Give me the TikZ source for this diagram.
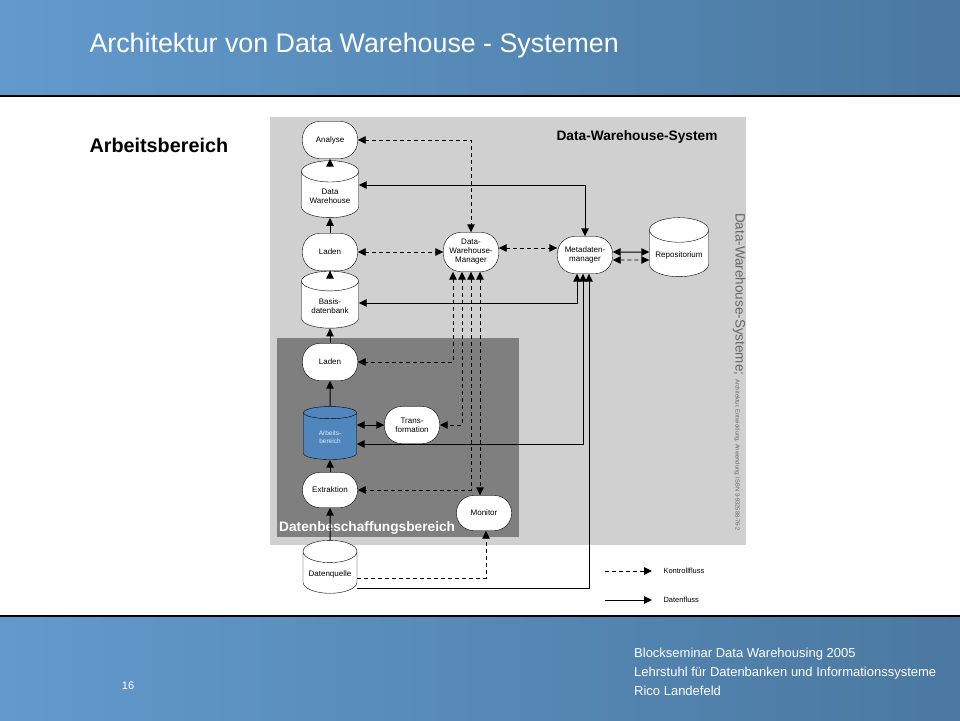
\documentclass[tikz,border=0pt]{standalone}
\usepackage{fontspec}
\setmainfont{Liberation Sans}
\usetikzlibrary{arrows.meta,shapes.geometric}
\definecolor{headl}{RGB}{98,154,204}
\definecolor{headr}{RGB}{74,120,160}
\definecolor{panel}{RGB}{208,208,208}
\definecolor{dark}{RGB}{127,127,127}
\definecolor{arbblue}{RGB}{79,134,190}
\begin{document}
\begin{tikzpicture}[x = 1pt, y = -1pt, >= {Triangle[length=8pt,width=7.5pt]},
    proc/.style = {draw, fill=white, rectangle, rounded corners=17pt, minimum width=55pt,
      minimum height=37pt, align=center, inner sep=1pt, font=\fontsize{8}{9}\selectfont},
    store/.style = {draw, fill=white, cylinder, shape border rotate=90, aspect=0.5,
      minimum width=57pt, minimum height=57pt, align=center, inner sep=1pt,
      font=\fontsize{8}{9}\selectfont},
    data/.style = {line width=1pt},
    ctrl/.style = {line width=0.9pt, dash pattern=on 4pt off 3pt}]
  \useasboundingbox (0, 0) rectangle (960, 720);
  % slide
  \shade[left color=headl, right color=headr] (0, 0) rectangle (960, 95);
  \shade[left color=headl, right color=headr] (0, 616) rectangle (960, 720);
  \draw[line width=2.5pt] (0, 96) -- (960, 96);
  \draw[line width=2pt] (0, 615.5) -- (960, 615.5);
  \node[anchor=west, text=white, font=\fontsize{26.8}{30}\selectfont] (title) at (86, 46)
    {Architektur von Data Warehouse - Systemen};
  \node[anchor=west, font=\bfseries\fontsize{19.8}{22}\selectfont] (sub) at (86, 145) {Arbeitsbereich};
  \node[text=white, font=\fontsize{11}{13}\selectfont] (page) at (128, 686) {16};
  \node[anchor=north west, align=left, text=white, font=\fontsize{13}{19}\selectfont, inner sep=0pt]
    (foot) at (634, 648) {Blockseminar Data Warehousing 2005\\
      Lehrstuhl für Datenbanken und Informationssysteme\\Rico Landefeld};
  % panels
  \fill[panel] (270, 117) rectangle (746, 545);
  \fill[dark] (277, 338) rectangle (519, 537);
  \node[anchor=east, font=\bfseries\fontsize{13.7}{15}\selectfont] (sys) at (721, 137) {Data-Warehouse-System};
  \node[anchor=west, rotate=-90, text=black!60, inner sep=0pt] (book) at (739, 213)
    {\fontsize{13.5}{15}\selectfont Data-Warehouse-Systeme;
     \fontsize{5.8}{7}\selectfont Architektur, Entwicklung, Anwendung; ISBN 3-932588-76-2};
  \node[anchor=west, text=white, font=\bfseries\fontsize{13.7}{15}\selectfont, inner sep=0pt]
    (dbb) at (279, 528) {Datenbeschaffungsbereich};
  % nodes
  \node[proc] (analyse) at (330, 140) {Analyse};
  \node[store] (dw) at (330, 196) {Data\\Warehouse};
  \node[proc] (laden1) at (330, 252) {Laden};
  \node[store] (basis) at (330, 306) {Basis-\\datenbank};
  \node[proc] (laden2) at (330, 362) {Laden};
  \node[store, fill=arbblue, text=white!85!arbblue, minimum width=53pt, minimum height=53pt,
    font=\fontsize{6.5}{7.5}\selectfont] (arb) at (330, 437) {Arbeits-\\bereich};
  \node[proc] (trans) at (412, 425) {Trans-\\formation};
  \node[proc, minimum height=35pt] (extr) at (330, 490) {Extraktion};
  \node[proc, minimum height=35pt] (monitor) at (484, 513) {Monitor};
  \node[store, minimum width=54pt, minimum height=53pt] (dq) at (330, 574) {Datenquelle};
  \node[proc, minimum height=39pt] (dwm) at (471, 252) {Data-\\Warehouse-\\Manager};
  \node[proc] (meta) at (585, 255) {Metadaten-\\manager};
  \node[store, minimum width=59pt, minimum height=59pt] (repo) at (679, 255) {Repositorium};
  % datenfluss
  \draw[data, ->] (dq) -- (extr);
  \draw[data, ->] (extr) -- (arb);
  \draw[data, ->] (arb) -- (laden2);
  \draw[data, ->] (laden2) -- (basis);
  \draw[data, ->] (basis) -- (laden1);
  \draw[data, ->] (laden1) -- (dw);
  \draw[data, ->] (dw) -- (analyse);
  \draw[data, <->] (trans.west -| arb.east) -- (trans.west);
  \draw[data, <->] ([yshift=11pt]dw.east) -| (meta.north);
  \draw[data, <->] ([xshift=-8pt]meta.south) |- ([yshift=3pt]basis.east);
  \draw[data, <->] ([xshift=-2pt]meta.south) |- ([yshift=-7pt]arb.east);
  \draw[data, ->] ([yshift=-14pt]dq.east) -| ([xshift=4pt]meta.south);
  \draw[data, <->] ([yshift=3pt]meta.east) -- ([yshift=3pt]repo.west);
  % kontrollfluss
  \draw[ctrl, <->] (analyse) -| (dwm);
  \draw[ctrl, <->] (laden1) -- (dwm);
  \draw[ctrl, <->] ([yshift=4pt]dwm.east) -- ([yshift=4pt]dwm.east -| meta.west);
  \draw[ctrl, <->] ([yshift=-5pt]meta.east) -- ([yshift=-5pt]repo.west);
  \draw[ctrl, <->] ([xshift=-18pt]dwm.south) |- (laden2);
  \draw[ctrl, <->] ([xshift=-9pt]dwm.south) |- (trans);
  \draw[ctrl, <->] (dwm.south) |- (extr);
  \draw[ctrl, <->] ([xshift=9pt]dwm.south) -- ([xshift=9pt]dwm.south |- monitor.north);
  \draw[ctrl, ->] ([yshift=-4pt]dq.east) -| ([xshift=2pt]monitor.south);
  % legende
  \node[anchor=west, font=\fontsize{7.5}{9}\selectfont] (kleg) at (660, 571) {Kontrollfluss};
  \node[anchor=west, font=\fontsize{7.5}{9}\selectfont] (dleg) at (660, 600) {Datenfluss};
  \coordinate (kstart) at (605, 571);
  \coordinate (dstart) at (605, 600);
  \draw[ctrl, ->] (kstart) -- ([xshift=-8pt]kleg.west);
  \draw[data, ->] (dstart) -- ([xshift=-8pt]dleg.west);
\end{tikzpicture}
\end{document}
